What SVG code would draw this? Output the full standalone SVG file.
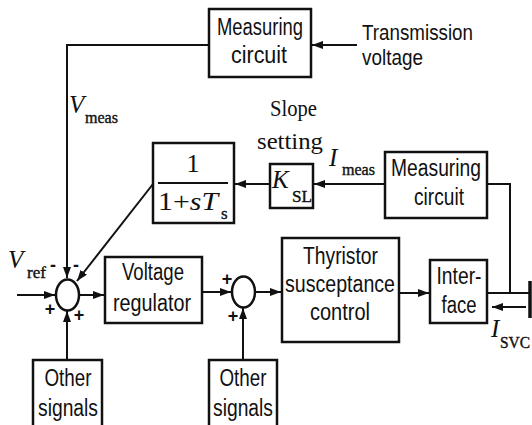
<svg xmlns="http://www.w3.org/2000/svg" width="532" height="425" viewBox="0 0 532 425">
<defs>
<marker id="ah" markerUnits="userSpaceOnUse" markerWidth="12" markerHeight="10" refX="11" refY="4" orient="auto">
<path d="M0,0 L11,4 L0,8 Z" fill="#111"/>
</marker>
</defs>
<style>
.box{fill:#fff;stroke:#111;stroke-width:2.5}
.ln{fill:none;stroke:#111;stroke-width:2}
.arr{fill:none;stroke:#111;stroke-width:2;marker-end:url(#ah)}
.t{font-family:"Liberation Sans",Arial,sans-serif;font-size:23px;fill:#111;text-anchor:middle}
.tl{font-family:"Liberation Sans",Arial,sans-serif;font-size:22px;fill:#111}
.m{font-family:"Liberation Serif","Times New Roman",serif;fill:#111}
.mi{font-family:"Liberation Serif","Times New Roman",serif;font-style:italic;fill:#111;font-size:25px}
.sub{font-family:"Liberation Serif","Times New Roman",serif;fill:#111;font-size:17px;stroke:#111;stroke-width:0.4}
.sg{font-family:"Liberation Sans",Arial,sans-serif;font-size:18px;font-weight:bold;fill:#111;text-anchor:middle}
</style>
<rect width="532" height="425" fill="#fff"/>
<g id="connectors">
<polyline class="arr" points="209,45 67,45 67,278"/>
<line class="arr" x1="357" y1="45" x2="312" y2="45"/>
<line class="arr" x1="385" y1="184" x2="314" y2="184"/>
<line class="arr" x1="270" y1="184" x2="235" y2="184"/>
<line class="arr" x1="153" y1="184" x2="77" y2="281"/>
<line class="arr" x1="17" y1="295" x2="55" y2="295"/>
<line class="arr" x1="79" y1="295" x2="104" y2="295"/>
<line class="arr" x1="67" y1="360" x2="67" y2="311"/>
<line class="arr" x1="202" y1="292" x2="231" y2="292"/>
<line class="arr" x1="255" y1="292" x2="281" y2="292"/>
<line class="arr" x1="243" y1="360" x2="243" y2="308"/>
<line class="arr" x1="399" y1="293" x2="429" y2="293"/>
<polyline class="ln" points="487,184 510,184 510,293"/>
<line class="ln" x1="487" y1="293" x2="530" y2="293"/>
<line class="arr" x1="526" y1="307" x2="492" y2="307"/>
<line x1="530" y1="281" x2="530" y2="318" stroke="#111" stroke-width="3.5"/>
</g>
<g id="meas1">
<rect class="box" x="209" y="9" width="102" height="68"/>
<text class="t" x="260" y="35" textLength="86" lengthAdjust="spacingAndGlyphs">Measuring</text>
<text class="t" x="259" y="63" textLength="56" lengthAdjust="spacingAndGlyphs">circuit</text>
</g>
<g id="transmission">
<text class="tl" x="362" y="40" textLength="111" lengthAdjust="spacingAndGlyphs">Transmission</text>
<text class="tl" x="362" y="65" textLength="61" lengthAdjust="spacingAndGlyphs">voltage</text>
</g>
<g id="vmeas">
<text class="mi" x="69" y="113">V</text>
<text class="sub" x="85" y="123" textLength="33" lengthAdjust="spacingAndGlyphs">meas</text>
</g>
<g id="slope">
<text class="m" x="270" y="116" font-size="24" textLength="47" lengthAdjust="spacingAndGlyphs">Slope</text>
<text class="m" x="257" y="149" font-size="24" textLength="66" lengthAdjust="spacingAndGlyphs">setting</text>
</g>
<g id="imeas">
<text class="mi" x="329" y="166">I</text>
<text class="sub" x="342" y="175" textLength="33" lengthAdjust="spacingAndGlyphs">meas</text>
</g>
<g id="meas2">
<rect class="box" x="385" y="152" width="102" height="66"/>
<text class="t" x="436" y="176" textLength="90" lengthAdjust="spacingAndGlyphs">Measuring</text>
<text class="t" x="439" y="205" textLength="50" lengthAdjust="spacingAndGlyphs">circuit</text>
</g>
<g id="ksl">
<rect class="box" x="270" y="164" width="43" height="44"/>
<text class="mi" x="272" y="188">K</text>
<text class="sub" x="292" y="202" textLength="20" lengthAdjust="spacingAndGlyphs">SL</text>
</g>
<g id="tf">
<rect class="box" x="153" y="143" width="81" height="80"/>
<text class="m" x="193" y="172" font-size="26" text-anchor="middle">1</text>
<line x1="158" y1="183" x2="228" y2="183" stroke="#111" stroke-width="2"/>
<text class="m" x="158" y="210" font-size="26" textLength="60" lengthAdjust="spacingAndGlyphs">1+<tspan font-style="italic">sT</tspan></text>
<text class="sub" x="221" y="219">s</text>
</g>
<g id="vref">
<text class="mi" x="8" y="268">V</text>
<text class="sub" x="27" y="278">ref</text>
</g>
<g id="sum1">
<ellipse cx="67.5" cy="295" rx="11.5" ry="15.5" fill="#fff" stroke="#111" stroke-width="2.5"/>
<text class="sg" x="53" y="271">-</text>
<text class="sg" x="76" y="271">-</text>
<text class="sg" x="50" y="315">+</text>
<text class="sg" x="79" y="321">+</text>
</g>
<g id="vreg">
<rect class="box" x="105" y="257" width="97" height="66"/>
<text class="t" x="153" y="280" textLength="62" lengthAdjust="spacingAndGlyphs">Voltage</text>
<text class="t" x="152" y="311" textLength="78" lengthAdjust="spacingAndGlyphs">regulator</text>
</g>
<g id="sum2">
<ellipse cx="243.5" cy="292" rx="11.5" ry="15.5" fill="#fff" stroke="#111" stroke-width="2.5"/>
<text class="sg" x="227" y="285">+</text>
<text class="sg" x="233" y="322">+</text>
</g>
<g id="thyristor">
<rect class="box" x="282" y="238" width="117" height="104"/>
<text class="t" x="340.5" y="264" textLength="75" lengthAdjust="spacingAndGlyphs">Thyristor</text>
<text class="t" x="340" y="292" textLength="110" lengthAdjust="spacingAndGlyphs">susceptance</text>
<text class="t" x="340" y="320" textLength="60" lengthAdjust="spacingAndGlyphs">control</text>
</g>
<g id="interface">
<rect class="box" x="430" y="260" width="57" height="63"/>
<text class="t" x="459" y="284" textLength="45" lengthAdjust="spacingAndGlyphs">Inter-</text>
<text class="t" x="459" y="313" textLength="35" lengthAdjust="spacingAndGlyphs">face</text>
</g>
<g id="isvc">
<text class="mi" x="491" y="337">I</text>
<text class="sub" x="500" y="348" textLength="30" lengthAdjust="spacingAndGlyphs">SVC</text>
</g>
<g id="other1">
<rect class="box" x="33" y="360" width="69" height="70"/>
<text class="t" x="68" y="386" textLength="47" lengthAdjust="spacingAndGlyphs">Other</text>
<text class="t" x="68" y="416" textLength="60" lengthAdjust="spacingAndGlyphs">signals</text>
</g>
<g id="other2">
<rect class="box" x="209" y="360" width="68" height="70"/>
<text class="t" x="243" y="386" textLength="47" lengthAdjust="spacingAndGlyphs">Other</text>
<text class="t" x="243" y="416" textLength="60" lengthAdjust="spacingAndGlyphs">signals</text>
</g>
</svg>
